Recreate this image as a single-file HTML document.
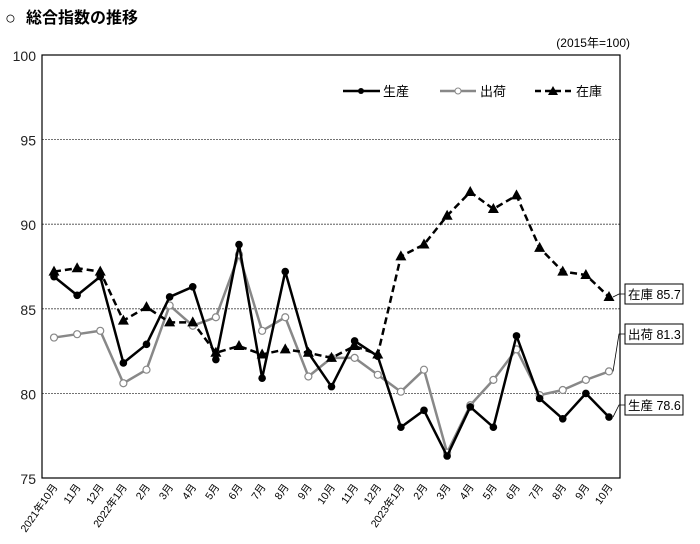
<!DOCTYPE html>
<html><head><meta charset="utf-8"><style>
body{margin:0;background:#fff;}
svg{display:block;font-family:"Liberation Sans","Noto Sans CJK JP",sans-serif;}
</style></head><body>
<svg id="chart" width="700" height="544">
<text x="5" y="24" font-size="18" font-weight="bold">○</text>
<text x="26" y="23" font-size="16" font-weight="bold">総合指数の推移</text>
<text x="630" y="47" font-size="12" text-anchor="end">(2015年=100)</text>
<g id="grid"></g><g id="axes"></g><g id="series"></g>
<g>
<line x1="343" y1="91" x2="380" y2="91" stroke="#000" stroke-width="2.5"/><circle cx="361" cy="91" r="3" fill="#000"/>
<text x="383" y="96" font-size="13">生産</text>
<line x1="440" y1="91" x2="476" y2="91" stroke="#888" stroke-width="2.5"/><circle cx="458" cy="91" r="3" fill="#fff" stroke="#888"/>
<text x="480" y="96" font-size="13">出荷</text>
<line x1="535" y1="91" x2="572" y2="91" stroke="#000" stroke-width="2.5" stroke-dasharray="6,4"/><polygon points="553,86 558,95 548,95" fill="#000"/>
<text x="576" y="96" font-size="13">在庫</text>
</g>
<g id="callouts"></g>
</svg>
<script>
const categories=["2021年10月","11月","12月","2022年1月","2月","3月","4月","5月","6月","7月","8月","9月","10月","11月","12月","2023年1月","2月","3月","4月","5月","6月","7月","8月","9月","10月"];
const production=[86.9,85.8,86.9,81.8,82.9,85.7,86.3,82.0,88.8,80.9,87.2,82.4,80.4,83.1,82.2,78.0,79.0,76.3,79.2,78.0,83.4,79.7,78.5,80.0,78.6];
const shipments=[83.3,83.5,83.7,80.6,81.4,85.2,84.0,84.5,88.2,83.7,84.5,81.0,82.1,82.1,81.1,80.1,81.4,76.5,79.3,80.8,82.6,79.9,80.2,80.8,81.3];
const inventory=[87.2,87.4,87.2,84.3,85.1,84.2,84.2,82.4,82.8,82.3,82.6,82.4,82.1,82.8,82.3,88.1,88.8,90.5,91.9,90.9,91.7,88.6,87.2,87.0,85.7];
const yTicks=[75,80,85,90,95,100];
const NS="http://www.w3.org/2000/svg";
const L=42,R=620,T=55,B=478,yMin=75,yMax=100;
const x=i=>54+i*(609-54)/(categories.length-1);
const y=v=>B-(v-yMin)/(yMax-yMin)*(B-T);
function mk(tag,attrs,parent){const e=document.createElementNS(NS,tag);for(const k in attrs)e.setAttribute(k,attrs[k]);parent.appendChild(e);return e;}
const grid=document.getElementById('grid'),axes=document.getElementById('axes'),ser=document.getElementById('series'),co=document.getElementById('callouts');
yTicks.forEach(t=>{
 if(t>yMin&&t<yMax){const g=mk('line',{x1:L,x2:R,y1:y(t),y2:y(t),stroke:'#444','stroke-width':0.8,'stroke-dasharray':'2,1'},grid);
 
 }
 const tx=mk('text',{x:36,y:y(t)+6,'font-size':14,'text-anchor':'end',fill:'#222'},axes);tx.textContent=t;
 
 
});
const fr=mk('rect',{x:L,y:T,width:R-L,height:B-T,fill:'none',stroke:'#000','stroke-width':1.2},axes);


categories.forEach((c,i)=>{
 const tx=mk('text',{x:0,y:0,'font-size':10.5,'text-anchor':'end',transform:`translate(${x(i)+4},${B+9}) rotate(-55)`},axes);tx.textContent=c;
 
 
});
function drawSeries(data,name,color,dash,marker){
 const pts=data.map((v,i)=>x(i)+','+y(v)).join(' ');
 const pl=mk('polyline',{points:pts,fill:'none',stroke:color,'stroke-width':2.5,'stroke-dasharray':dash||'none','stroke-linejoin':'round'},ser);
 
 
 data.forEach((v,i)=>{let m;
  if(marker==='tri')m=mk('polygon',{points:`${x(i)},${y(v)-6} ${x(i)+5.5},${y(v)+4} ${x(i)-5.5},${y(v)+4}`,fill:'#000'},ser);
  else if(marker==='open')m=mk('circle',{cx:x(i),cy:y(v),r:3.5,fill:'#fff',stroke:'#888','stroke-width':1.2},ser);
  else m=mk('circle',{cx:x(i),cy:y(v),r:3.8,fill:'#000'},ser);
  
  });
}
drawSeries(shipments,'shipments','#888',null,'open');
drawSeries(production,'production','#000',null,'dot');
drawSeries(inventory,'inventory','#000','7,4','tri');
function callout(label,val,by,name){
 const n=categories.length-1;
 const ln=mk('polyline',{points:`${x(n)+4},${y(val)} ${x(n)+10},${by+10} 625,${by+10}`,fill:'none',stroke:'#000','stroke-width':0.8},co);
 
 
 const r=mk('rect',{x:625,y:by,width:58,height:20,fill:'#fff',stroke:'#000','stroke-width':1},co);
 
 
 const t=mk('text',{x:628,y:by+15,'font-size':12.5},co);t.textContent=label+' '+val.toFixed(1);
 
 
}
callout('在庫',inventory[inventory.length-1],284,'inventory');
callout('出荷',shipments[shipments.length-1],324,'shipments');
callout('生産',production[production.length-1],395,'production');
</script>
</body></html>
